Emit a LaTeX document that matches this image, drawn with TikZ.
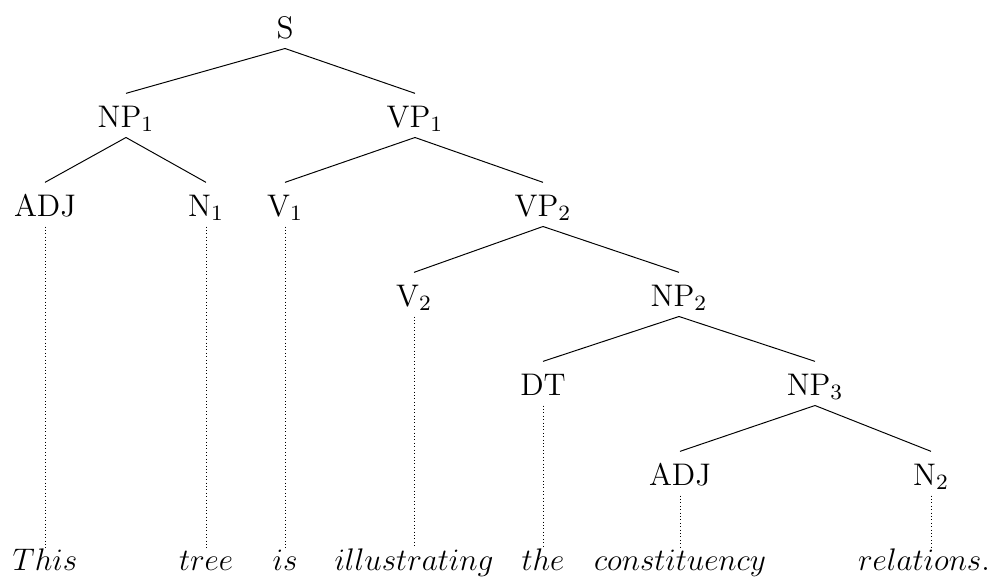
\RequirePackage{fix-cm}
\documentclass[tikz,border=0pt]{standalone}
\usetikzlibrary{positioning}
\tikzset{
  cat/.style={inner sep=0pt, anchor=base, text height=13.6pt, text depth=4.1pt, font=\fontsize{12.8}{15}\selectfont},
  word/.style={inner sep=0pt, anchor=base, text height=9pt, text depth=0pt, font=\fontsize{12.8}{15}\selectfont},
  branch/.style={draw=black},
  leaf/.style={draw=black, dash pattern=on 0.4pt off 1pt},
}
\begin{document}
\begin{tikzpicture}[x=0.41pt, y=-0.41pt]
\useasboundingbox (0,0) rectangle (998,578);
% categories
\node[cat] (s) at (285,38) {S};
\node[cat] (np1) at (126,127) {NP$_1$};
\node[cat] (vp1) at (415,127) {VP$_1$};
\node[cat] (adj1) at (45,216) {ADJ};
\node[cat] (n1) at (206,216) {N$_1$};
\node[cat] (v1) at (285,216) {V$_1$};
\node[cat] (vp2) at (543,216) {VP$_2$};
\node[cat] (v2) at (414,306) {V$_2$};
\node[cat] (np2) at (679,306) {NP$_2$};
\node[cat] (dt) at (543,395) {DT};
\node[cat] (np3) at (815,395) {NP$_3$};
\node[cat] (adj2) at (680,485) {ADJ};
\node[cat] (n2) at (931,485) {N$_2$};
% words
\node[word] (w1) at (45,570) {$This$};
\node[word] (w2) at (206,570) {$tree$};
\node[word] (w3) at (285,570) {$is$};
\node[word] (w4) at (414,570) {$illustrating$};
\node[word] (w5) at (543,570) {$the$};
\node[word] (w6) at (680,570) {$constituency$};
\node[word] (w7) at (924,570) {$relations.$};
% branches
\draw[branch] (s.south) -- (np1.north);
\draw[branch] (s.south) -- (vp1.north);
\draw[branch] (np1.south) -- (adj1.north);
\draw[branch] (np1.south) -- (n1.north);
\draw[branch] (vp1.south) -- (v1.north);
\draw[branch] (vp1.south) -- (vp2.north);
\draw[branch] (vp2.south) -- (v2.north);
\draw[branch] (vp2.south) -- (np2.north);
\draw[branch] (np2.south) -- (dt.north);
\draw[branch] (np2.south) -- (np3.north);
\draw[branch] (np3.south) -- (adj2.north);
\draw[branch] (np3.south) -- (n2.north);
% leaves
\draw[leaf] (adj1.south) -- (adj1.south |- w1.north);
\draw[leaf] (n1.south) -- (n1.south |- w2.north);
\draw[leaf] (v1.south) -- (v1.south |- w3.north);
\draw[leaf] (v2.south) -- (v2.south |- w4.north);
\draw[leaf] (dt.south) -- (dt.south |- w5.north);
\draw[leaf] (adj2.south) -- (adj2.south |- w6.north);
\draw[leaf] (n2.south) -- (n2.south |- w7.north);
\end{tikzpicture}
\end{document}
